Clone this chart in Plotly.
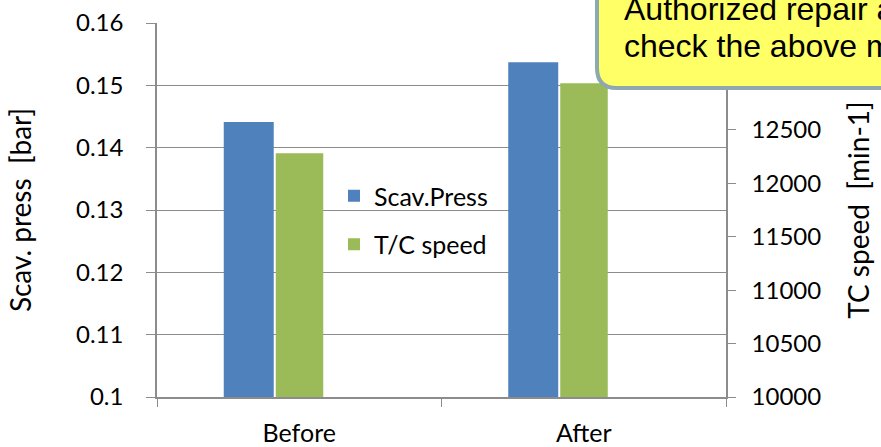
import plotly.graph_objects as go

categories = ["Before", "After"]
scav_press = [0.1441, 0.1537]
tc_speed = [12280, 12935]
left_ticks = [0.10, 0.11, 0.12, 0.13, 0.14, 0.15, 0.16]
left_tick_text = ["0.1", "0.11", "0.12", "0.13", "0.14", "0.15", "0.16"]
callout_lines = ["Authorized repair a", "check the above m"]

W, H = 881, 447
ML, MR, MT, MB = 157, 155, 23, 50
PW, PH = W - ML - MR, H - MT - MB


def px(x):
    return (x - ML) / PW


def py(y):
    return (H - MB - y) / PH


fig = go.Figure()
fig.add_trace(go.Bar(
    x=categories, y=scav_press, name="Scav.Press", yaxis="y",
    marker=dict(color="#4F81BD", line=dict(width=0)),
    offset=-0.2654, width=0.1757, legendgroup="a",
))
fig.add_trace(go.Bar(
    x=categories, y=tc_speed, name="T/C speed", yaxis="y2",
    marker=dict(color="#9BBB59", line=dict(width=0)),
    offset=-0.0826, width=0.167, legendgroup="b",
))

font_main = "Lato, Calibri, sans-serif"
grid = "#8C8C8C"

fig.update_layout(
    width=W, height=H,
    margin=dict(l=ML, r=MR, t=MT, b=MB, autoexpand=False),
    paper_bgcolor="white", plot_bgcolor="white",
    barmode="overlay",
    font=dict(family=font_main, size=24, color="black"),
    showlegend=True,
    legend=dict(
        x=px(334), y=py(173), xanchor="left", yanchor="top",
        bgcolor="rgba(0,0,0,0)", font=dict(size=25, family=font_main),
        tracegroupgap=13, traceorder="grouped",
    ),
    xaxis=dict(
        type="category", range=[-0.5, 1.5],
        showline=True, linecolor=grid, linewidth=1.5,
        ticks="outside", tickson="boundaries", ticklen=8, tickcolor=grid,
        showgrid=False, tickfont=dict(size=25), ticklabelstandoff=13,
    ),
    yaxis=dict(
        range=[0.1, 0.16], tickvals=left_ticks, ticktext=left_tick_text,
        showline=True, linecolor=grid, linewidth=1.5,
        ticks="outside", ticklen=9, tickcolor=grid,
        showgrid=True, gridcolor=grid, gridwidth=1.2,
        zeroline=False, tickfont=dict(size=24), ticklabelstandoff=18,
        title=dict(text="Scav. press \u00a0[bar]", font=dict(size=28), standoff=36),
    ),
    yaxis2=dict(
        range=[10000, 13500], dtick=500, tickformat="d", overlaying="y", side="right",
        showline=True, linecolor=grid, linewidth=1.5,
        ticks="outside", ticklen=8, tickcolor=grid,
        showgrid=False, zeroline=False, tickfont=dict(size=24), ticklabelstandoff=11,
        title=dict(text="TC speed \u00a0[min-1]", font=dict(size=28), standoff=29),
    ),
)

# callout box (rounded rectangle extending past the figure edge)
x0, x1, y0, y1, r = 597, 1000, -40, 88, 20
path = (
    f"M {px(x0)},{py(y0)} "
    f"L {px(x0)},{py(y1 - r)} "
    f"Q {px(x0)},{py(y1)} {px(x0 + r)},{py(y1)} "
    f"L {px(x1)},{py(y1)} L {px(x1)},{py(y0)} Z"
)
fig.add_shape(type="path", path=path, xref="paper", yref="paper",
              fillcolor="#FFFF66", line=dict(color="#8DA9AD", width=4),
              layer="above")

for txt, yc in zip(callout_lines, [9, 46]):
    fig.add_annotation(
        text=txt, x=px(622), y=py(yc), xref="paper", yref="paper",
        xanchor="left", yanchor="middle", align="left", showarrow=False,
        font=dict(family="Liberation Sans, Arial, sans-serif", size=32, color="black"),
    )

fig.write_html(
    "out.html",
    config={"displayModeBar": False},
    post_script="document.body.style.margin='0';document.body.style.overflow='hidden';",
)
